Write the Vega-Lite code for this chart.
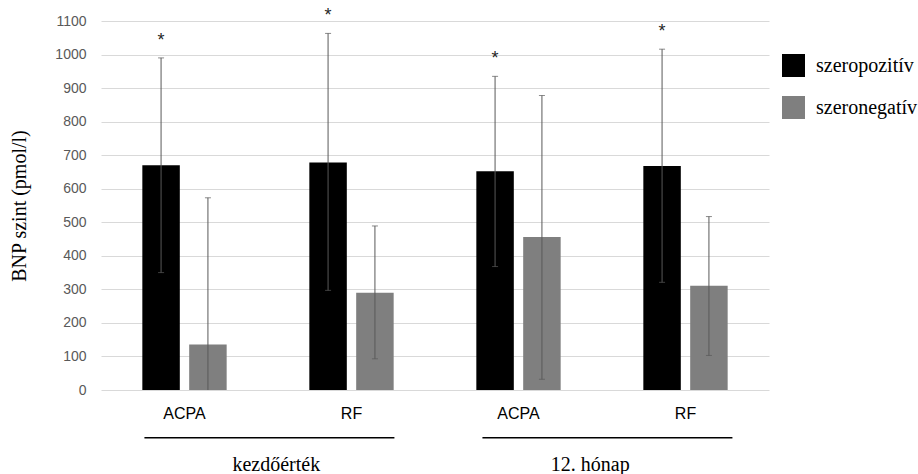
{
  "$schema": "https://vega.github.io/schema/vega-lite/v6.json",
  "width": 668,
  "height": 369,
  "autosize": "none",
  "padding": {"left": 101, "top": 21, "right": 149, "bottom": 84},
  "background": "white",
  "config": {
    "view": {"stroke": null},
    "font": "Liberation Sans",
    "axisY": {
      "titleFont": "Liberation Serif",
      "titleFontSize": 20,
      "titleFontWeight": "normal",
      "titleColor": "#000000",
      "titlePadding": 25,
      "format": "d",
      "labelFont": "Liberation Sans",
      "labelFontSize": 14,
      "labelColor": "#595959",
      "labelPadding": 15,
      "domain": false,
      "ticks": false,
      "gridColor": "#d9d9d9",
      "gridWidth": 1
    }
  },
  "datasets": {
    "oszlopok": [
      {"kat": "kezdőérték|ACPA", "csoport": "szeropozitív", "atlag": 670, "also": 350, "felso": 990, "jel": "*"},
      {"kat": "kezdőérték|ACPA", "csoport": "szeronegatív", "atlag": 136, "also": 0, "felso": 573, "jel": ""},
      {"kat": "kezdőérték|RF", "csoport": "szeropozitív", "atlag": 678, "also": 297, "felso": 1063, "jel": "*"},
      {"kat": "kezdőérték|RF", "csoport": "szeronegatív", "atlag": 290, "also": 93, "felso": 489, "jel": ""},
      {"kat": "12. hónap|ACPA", "csoport": "szeropozitív", "atlag": 652, "also": 368, "felso": 935, "jel": "*"},
      {"kat": "12. hónap|ACPA", "csoport": "szeronegatív", "atlag": 456, "also": 32, "felso": 878, "jel": ""},
      {"kat": "12. hónap|RF", "csoport": "szeropozitív", "atlag": 668, "also": 321, "felso": 1016, "jel": "*"},
      {"kat": "12. hónap|RF", "csoport": "szeronegatív", "atlag": 311, "also": 103, "felso": 517, "jel": ""}
    ],
    "csoportok": [
      {"idoszak": "kezdőérték", "kezdet": 0.26, "veg": 1.757, "kozep": 1.05},
      {"idoszak": "12. hónap", "kezdet": 2.284, "veg": 3.781, "kozep": 2.93}
    ]
  },
  "layer": [
    {
      "data": {"name": "oszlopok"},
      "encoding": {
        "x": {
          "field": "kat",
          "type": "nominal",
          "sort": null,
          "scale": {"paddingInner": 0.495, "paddingOuter": 0.2475},
          "axis": {
            "title": null,
            "labelExpr": "split(datum.label, '|')[1]",
            "labelAngle": 0,
            "labelFont": "Liberation Sans",
            "labelFontSize": 16,
            "labelColor": "#000000",
            "labelPadding": 15,
            "domain": false,
            "ticks": false,
            "grid": false
          }
        },
        "xOffset": {
          "field": "csoport",
          "type": "nominal",
          "sort": ["szeropozitív", "szeronegatív"],
          "scale": {"paddingInner": 0.2, "paddingOuter": 0}
        }
      },
      "layer": [
        {
          "mark": {"type": "bar"},
          "encoding": {
            "y": {
              "field": "atlag",
              "type": "quantitative",
              "scale": {"domain": [0, 1100], "nice": false},
              "axis": {"title": "BNP szint (pmol/l)", "values": [0, 100, 200, 300, 400, 500, 600, 700, 800, 900, 1000, 1100]}
            },
            "color": {
              "field": "csoport",
              "type": "nominal",
              "sort": ["szeropozitív", "szeronegatív"],
              "scale": {"domain": ["szeropozitív", "szeronegatív"], "range": ["#000000", "#7f7f7f"]},
              "legend": {
                "title": null,
                "orient": "none",
                "legendX": 681,
                "legendY": 33,
                "symbolType": "square",
                "symbolSize": 529,
                "symbolStrokeWidth": 0,
                "labelFont": "Liberation Serif",
                "labelFontSize": 20,
                "labelColor": "#000000",
                "labelOffset": 11,
                "rowPadding": 19,
                "encode": {
                  "symbols": {
                    "update": {
                      "fill": {"signal": "datum.value === 'szeronegatív' ? '#a6a6a6' : '#000000'"},
                      "opacity": {"value": 1}
                    }
                  }
                }
              }
            }
          }
        },
        {
          "mark": {"type": "rule", "color": "#595959", "strokeWidth": 1},
          "encoding": {
            "y": {"field": "also", "type": "quantitative", "axis": {"title": "BNP szint (pmol/l)", "values": [0, 100, 200, 300, 400, 500, 600, 700, 800, 900, 1000, 1100]}},
            "y2": {"field": "felso"}
          }
        },
        {
          "mark": {"type": "tick", "color": "#595959", "thickness": 1, "size": 6},
          "encoding": {
            "y": {"field": "felso", "type": "quantitative", "axis": {"title": "BNP szint (pmol/l)", "values": [0, 100, 200, 300, 400, 500, 600, 700, 800, 900, 1000, 1100]}}
          }
        },
        {
          "transform": [{"filter": "datum.also > 0"}],
          "mark": {"type": "tick", "color": "#595959", "thickness": 1, "size": 6},
          "encoding": {
            "y": {"field": "also", "type": "quantitative", "axis": {"title": "BNP szint (pmol/l)", "values": [0, 100, 200, 300, 400, 500, 600, 700, 800, 900, 1000, 1100]}}
          }
        },
        {
          "mark": {"type": "text", "font": "Liberation Sans", "fontSize": 18, "color": "#262626", "baseline": "alphabetic", "dy": -12},
          "encoding": {
            "y": {"field": "felso", "type": "quantitative", "axis": {"title": "BNP szint (pmol/l)", "values": [0, 100, 200, 300, 400, 500, 600, 700, 800, 900, 1000, 1100]}},
            "text": {"field": "jel"}
          }
        }
      ]
    },
    {
      "data": {"name": "csoportok"},
      "layer": [
        {
          "mark": {"type": "rule", "color": "#000000", "strokeWidth": 1.5},
          "encoding": {
            "x": {"field": "kezdet", "type": "quantitative", "scale": {"domain": [0, 4], "nice": false, "zero": false}, "axis": null},
            "x2": {"field": "veg"},
            "y": {"datum": -142, "type": "quantitative", "axis": {"title": "BNP szint (pmol/l)", "values": [0, 100, 200, 300, 400, 500, 600, 700, 800, 900, 1000, 1100]}}
          }
        },
        {
          "mark": {"type": "text", "font": "Liberation Serif", "fontSize": 20, "color": "#000000", "baseline": "alphabetic", "align": "center"},
          "encoding": {
            "x": {"field": "kozep", "type": "quantitative", "scale": {"domain": [0, 4], "nice": false, "zero": false}, "axis": null},
            "y": {"datum": -241, "type": "quantitative", "axis": {"title": "BNP szint (pmol/l)", "values": [0, 100, 200, 300, 400, 500, 600, 700, 800, 900, 1000, 1100]}},
            "text": {"field": "idoszak"}
          }
        }
      ]
    }
  ],
  "resolve": {"scale": {"x": "independent"}}
}
